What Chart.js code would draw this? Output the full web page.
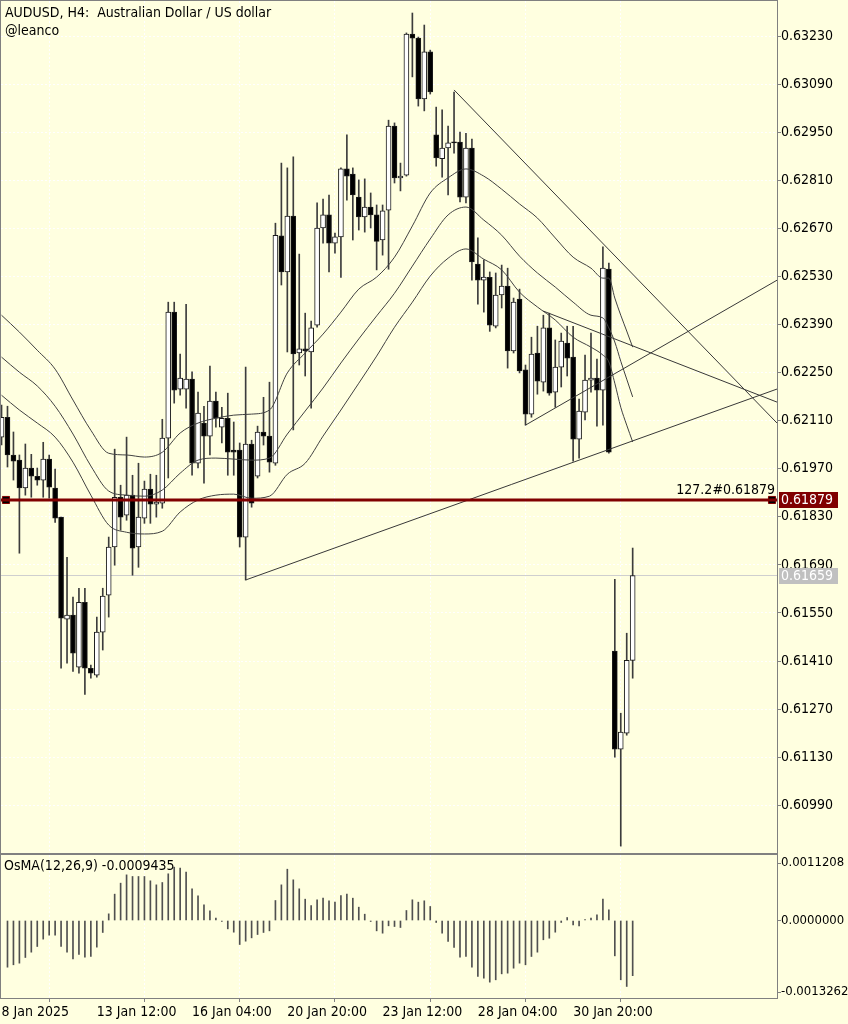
<!DOCTYPE html>
<html>
<head>
<meta charset="utf-8">
<title>AUDUSD H4</title>
<script src="https://cdn.jsdelivr.net/npm/chart.js"></script>
<style>
  body { margin: 0; background: #ffffe0; }
  #wrap { position: relative; width: 848px; height: 1024px; overflow: hidden; background: #ffffe0;
          font-family: 'DejaVu Sans Condensed', 'DejaVu Sans', sans-serif; font-size: 14px; color: #000; }
  canvas { position: absolute; left: 0; }
  #priceChart { top: 0; }
  #osmaChart { top: 854px; }
  .lbl { position: absolute; white-space: pre; line-height: 16px; }
</style>
</head>
<body>
<div id="wrap">
  <canvas id="priceChart" width="848" height="854"></canvas>
  <canvas id="osmaChart" width="848" height="170"></canvas>
  <div class="lbl" style="left:5px; top:4px">AUDUSD, H4:  Australian Dollar / US dollar</div>
  <div class="lbl" style="left:5px; top:22px">@leanco</div>
  <div class="lbl" style="left:4px; top:857px">OsMA(12,26,9) -0.0009435</div>
</div>
<script>
// H4 candles, first one is bar -1 (8 Jan 20:00), last one bar 105 (3 Feb 04:00)
const firstBar = -1;
const opens = [0.62062,0.62120,0.62010,0.61995,0.61914,0.61972,0.61948,0.61937,0.61998,0.61914,
  0.61829,0.61532,0.61544,0.61392,0.61581,0.61389,0.61369,0.61494,0.61602,0.61742,
  0.61887,0.61835,0.61893,0.61742,0.61826,0.61911,0.61867,0.61870,0.62059,0.62426,
  0.62202,0.62202,0.62231,0.61986,0.62103,0.62065,0.62167,0.62091,0.62117,0.62024,
  0.62024,0.61771,0.62042,0.61948,0.62077,0.62065,0.61986,0.62648,0.62543,0.62706,
  0.62307,0.62319,0.62310,0.62388,0.62671,0.62709,0.62627,0.62645,0.62843,0.62828,
  0.62761,0.62703,0.62732,0.62709,0.62636,0.62723,0.62968,0.62817,0.62825,0.63236,
  0.63224,0.63047,0.63184,0.62942,0.62873,0.62904,0.62921,0.62921,0.62761,0.62904,
  0.62566,0.62519,0.62527,0.62385,0.62476,0.62502,0.62313,0.62464,0.62258,0.62129,
  0.62307,0.62222,0.62380,0.62193,0.62266,0.62336,0.62295,0.62056,0.62135,0.62228,
  0.62234,0.62199,0.62551,0.61439,0.61153,0.61200,0.61412];
const highs = [0.62155,0.62152,0.62077,0.62010,0.62042,0.62012,0.61972,0.62047,0.62010,0.61969,
  0.61829,0.61712,0.61596,0.61622,0.61622,0.61398,0.61538,0.61622,0.61771,0.62027,
  0.61922,0.62062,0.61951,0.61986,0.61934,0.61954,0.61951,0.62114,0.62455,0.62455,
  0.62304,0.62449,0.62252,0.62193,0.62152,0.62269,0.62193,0.62149,0.62190,0.62106,
  0.62045,0.62266,0.62053,0.62094,0.62178,0.62222,0.62685,0.62860,0.62846,0.62878,
  0.62595,0.62423,0.62400,0.62744,0.62755,0.62767,0.62656,0.62846,0.62942,0.62846,
  0.62811,0.62814,0.62773,0.62738,0.62738,0.62985,0.62977,0.62860,0.63239,0.63297,
  0.63227,0.63262,0.63189,0.63023,0.63015,0.62968,0.63067,0.62950,0.62947,0.62930,
  0.62642,0.62578,0.62543,0.62540,0.62563,0.62554,0.62467,0.62493,0.62272,0.62353,
  0.62385,0.62417,0.62423,0.62345,0.62365,0.62385,0.62385,0.62173,0.62301,0.62365,
  0.62289,0.62616,0.62569,0.61648,0.61258,0.61491,0.61739];
const lows = [0.62039,0.61975,0.61937,0.61724,0.61893,0.61887,0.61922,0.61887,0.61884,0.61814,
  0.61389,0.61404,0.61380,0.61375,0.61313,0.61360,0.61363,0.61442,0.61538,0.61689,
  0.61791,0.61820,0.61660,0.61683,0.61811,0.61811,0.61829,0.61855,0.61943,0.62161,
  0.62184,0.62146,0.61951,0.61972,0.61928,0.62010,0.62091,0.62045,0.61951,0.61951,
  0.61742,0.61646,0.61858,0.61943,0.62039,0.61960,0.61980,0.62505,0.62310,0.62083,
  0.62272,0.62240,0.62146,0.62382,0.62627,0.62543,0.62598,0.62527,0.62752,0.62636,
  0.62665,0.62659,0.62671,0.62549,0.62592,0.62551,0.62802,0.62779,0.62822,0.63111,
  0.63026,0.63012,0.63061,0.62851,0.62819,0.62767,0.62889,0.62747,0.62744,0.62519,
  0.62449,0.62426,0.62370,0.62380,0.62438,0.62263,0.62307,0.62249,0.62097,0.62120,
  0.62187,0.62196,0.62184,0.62149,0.62208,0.62240,0.61992,0.62001,0.62112,0.62193,
  0.62094,0.62097,0.62015,0.61130,0.60871,0.61194,0.61360];
const closes = [0.62120,0.62010,0.61992,0.61914,0.61972,0.61948,0.61937,0.61998,0.61916,0.61826,
  0.61535,0.61544,0.61433,0.61581,0.61389,0.61375,0.61494,0.61599,0.61742,0.61887,
  0.61829,0.61893,0.61739,0.61829,0.61911,0.61867,0.61873,0.62059,0.62426,0.62199,
  0.62234,0.62231,0.61986,0.62132,0.62065,0.62167,0.62117,0.62117,0.62018,0.62018,
  0.61771,0.62042,0.61870,0.62077,0.62065,0.61989,0.62650,0.62543,0.62706,0.62304,
  0.62319,0.62313,0.62380,0.62671,0.62709,0.62627,0.62645,0.62843,0.62822,0.62767,
  0.62703,0.62732,0.62709,0.62632,0.62721,0.62968,0.62817,0.62822,0.63236,0.63224,
  0.63047,0.63184,0.63067,0.62875,0.62904,0.62919,0.62919,0.62761,0.62904,0.62572,
  0.62519,0.62528,0.62388,0.62476,0.62502,0.62313,0.62455,0.62255,0.62129,0.62304,
  0.62225,0.62380,0.62190,0.62266,0.62342,0.62292,0.62056,0.62138,0.62228,0.62234,
  0.62199,0.62554,0.62018,0.61153,0.61203,0.61412,0.61659];

// OsMA(12,26,9) histogram, same bars (no value for bar -1)
const osma = [null,-0.000799,-0.000758,-0.000730,-0.000633,-0.000542,-0.000445,-0.000319,-0.000251,-0.000251,
  -0.000445,-0.000542,-0.000656,-0.000582,-0.000627,-0.000616,-0.000456,-0.000205,0.000114,0.000451,
  0.000639,0.000781,0.000753,0.000753,0.000753,0.000679,0.000610,0.000650,0.000799,0.000913,
  0.000896,0.000827,0.000542,0.000422,0.000268,0.000165,0.000040,-0.000011,-0.000143,-0.000200,
  -0.000411,-0.000354,-0.000297,-0.000240,-0.000205,-0.000177,0.000342,0.000610,0.000878,0.000696,
  0.000542,0.000365,0.000254,0.000354,0.000382,0.000337,0.000314,0.000428,0.000451,0.000382,
  0.000228,0.000108,-0.000010,-0.000177,-0.000217,-0.000091,-0.000103,-0.000120,0.000171,0.000354,
  0.000314,0.000337,0.000240,-0.000034,-0.000217,-0.000359,-0.000462,-0.000627,-0.000616,-0.000799,
  -0.000958,-0.000987,-0.001055,-0.001015,-0.000913,-0.000901,-0.000816,-0.000730,-0.000758,-0.000616,
  -0.000542,-0.000330,-0.000303,-0.000200,-0.000034,0.000051,-0.000074,-0.000091,0.000005,0.000040,
  0.000097,0.000365,0.000183,-0.000605,-0.001015,-0.001129,-0.000944];

// moving average band (three lines), read every few bars
const maBars  = [-1,2,5,8,11,14,17,20,23,26,29,32,35,38,41,44,47,50,53,56,59,62,65,68,71,74,77,80,83,86,89,92,95,98,100,101,102,103,104,105];
const maUpper = [0.62417,0.62368,0.62315,0.62260,0.62170,0.62082,0.62015,0.62010,0.62004,0.62018,
  0.62074,0.62103,0.62117,0.62126,0.62129,0.62141,0.62249,0.62307,0.62362,0.62426,
  0.62493,0.62528,0.62586,0.62677,0.62773,0.62817,0.62843,0.62822,0.62784,0.62741,
  0.62700,0.62642,0.62586,0.62554,0.62525,0.62525,0.62467,0.62417,0.62371,0.62324];
const maMiddle = [0.62295,0.62251,0.62211,0.62152,0.62071,0.61978,0.61905,0.61893,0.61890,0.61908,
  0.61957,0.61995,0.62001,0.61998,0.61995,0.62001,0.62071,0.62138,0.62205,0.62278,
  0.62348,0.62415,0.62481,0.62560,0.62639,0.62709,0.62732,0.62694,0.62650,0.62589,
  0.62540,0.62499,0.62455,0.62417,0.62409,0.62380,0.62339,0.62283,0.62231,0.62179];
const maLower = [0.62184,0.62141,0.62103,0.62062,0.61989,0.61893,0.61806,0.61785,0.61780,0.61788,
  0.61844,0.61879,0.61893,0.61896,0.61884,0.61890,0.61954,0.61986,0.62065,0.62141,
  0.62219,0.62298,0.62382,0.62455,0.62531,0.62583,0.62610,0.62580,0.62549,0.62484,
  0.62441,0.62403,0.62353,0.62324,0.62301,0.62281,0.62219,0.62149,0.62097,0.62048];

// hand drawn trend lines: start bar/price -> end bar/price
const trendStartBar   = [75, 90, 87, 40];
const trendStartPrice = [0.63073, 0.62429, 0.62097, 0.61646];
const trendEndBar     = [129.24, 129.24, 129.24, 129.24];
const trendEndPrice   = [0.62103, 0.62164, 0.62519, 0.62202];

const fiboLevel = 0.61879;
const fiboText = '127.2#0.61879';
const fiboAnchorBars = [-0.25, 128.4];
const lastPrice = 0.61659;

const priceTicks = [0.63230,0.63090,0.62950,0.62810,0.62670,0.62530,0.62390,0.62250,0.62110,
  0.61970,0.61830,0.61690,0.61550,0.61410,0.61270,0.61130,0.60990];
const priceMin = 0.60851, priceMax = 0.63332;
const osmaMin = -0.0013262, osmaMax = 0.0011208;
const osmaTickLabels = ['0.0011208', '0.0000000', '-0.0013262'];
const timeTickBars = [-1, 15, 31, 47, 63, 79, 95];
const timeTickLabels = ['8 Jan 2025', '13 Jan 12:00', '16 Jan 04:00', '20 Jan 20:00', '23 Jan 12:00', '28 Jan 04:00', '30 Jan 20:00'];
const xMin = -1.09, xMax = 129.24;

const FONT_FAMILY = "'DejaVu Sans Condensed', 'DejaVu Sans', sans-serif";
const axisFont = { family: FONT_FAMILY, size: 14 };
Chart.defaults.font.family = FONT_FAMILY;

const barIdx = opens.map((_, i) => i + firstBar);
const wickData = barIdx.map((x, i) => ({ x: x, y: [lows[i], highs[i]] }));
const bodyData = barIdx.map((x, i) => ({ x: x, y: [opens[i], closes[i]] }));
const bodyColors = opens.map((o, i) => closes[i] >= o ? '#ffffff' : '#000000');

function maLine(values) {
  return {
    type: 'line', data: maBars.map((b, i) => ({ x: b, y: values[i] })),
    borderColor: '#404040', borderWidth: 1, pointRadius: 0,
    cubicInterpolationMode: 'monotone', order: 2
  };
}

const trendSets = trendStartBar.map((b, i) => ({
  type: 'line',
  data: [{ x: b, y: trendStartPrice[i] }, { x: trendEndBar[i], y: trendEndPrice[i] }],
  borderColor: '#383838', borderWidth: 1, pointRadius: 0, order: 1
}));

// no extra label padding: the panels must fill the canvas exactly
function noPad(s) {
  s.paddingTop = 0; s.paddingBottom = 0; s.paddingLeft = 0; s.paddingRight = 0;
}

// frame round the plot, price boxes on the right axis, fibo text
function drawFrame(chart) {
  const a = chart.chartArea, ctx = chart.ctx;
  ctx.save();
  ctx.strokeStyle = '#808080';
  ctx.lineWidth = 1;
  ctx.strokeRect(a.left - 0.5, a.top - 0.5, a.right - a.left + 1, a.bottom - a.top + 1);
  ctx.restore();
}

function priceBox(chart, value, bg) {
  const ctx = chart.ctx, a = chart.chartArea;
  const y = Math.round(chart.scales.y.getPixelForValue(value));
  ctx.fillStyle = bg;
  ctx.fillRect(a.right + 2, y - 8, 59, 16);
  ctx.fillStyle = '#ffffff';
  ctx.textAlign = 'left';
  ctx.textBaseline = 'middle';
  ctx.fillText(value.toFixed(5), a.right + 4, y + 0.5);
}

const pricePlugin = {
  id: 'priceExtras',
  afterDraw(chart) {
    const ctx = chart.ctx, a = chart.chartArea;
    drawFrame(chart);
    ctx.save();
    ctx.font = '14px ' + FONT_FAMILY;
    ctx.fillStyle = '#000';
    ctx.textAlign = 'right';
    ctx.textBaseline = 'bottom';
    ctx.fillText(fiboText, a.right - 2, chart.scales.y.getPixelForValue(fiboLevel) - 3);
    priceBox(chart, fiboLevel, '#800000');
    priceBox(chart, lastPrice, '#c0c0c0');
    ctx.restore();
  }
};

const framePlugin = { id: 'frame', afterDraw: drawFrame };

new Chart(document.getElementById('priceChart'), {
  type: 'bar',
  data: {
    datasets: [
      { type: 'line', data: [{ x: xMin, y: fiboLevel }, { x: xMax, y: fiboLevel }],
        borderColor: '#800000', borderWidth: 3, pointRadius: 0, order: 0 },
      { type: 'line', data: fiboAnchorBars.map(b => ({ x: b, y: fiboLevel })), showLine: false,
        pointStyle: 'rect', pointRadius: 5, pointBackgroundColor: '#000', pointBorderColor: '#800000',
        pointBorderWidth: 1, order: 0 },
      ...trendSets,
      maLine(maUpper), maLine(maMiddle), maLine(maLower),
      { data: bodyData, backgroundColor: bodyColors, borderColor: '#1a1a1a', borderWidth: 1,
        borderSkipped: false, barThickness: 5, minBarLength: 1, grouped: false, order: 3 },
      { data: wickData, backgroundColor: '#3c3c3c', barThickness: 1, grouped: false, order: 4 },
      { type: 'line', data: [{ x: xMin, y: lastPrice }, { x: xMax, y: lastPrice }],
        borderColor: '#cfcfcf', borderWidth: 1, pointRadius: 0, order: 5 }
    ]
  },
  options: {
    responsive: false, animation: false,
    layout: { autoPadding: false, padding: { top: 1, left: 1, right: 0, bottom: 1 } },
    plugins: { legend: { display: false }, tooltip: { enabled: false } },
    scales: {
      x: {
        type: 'linear', min: xMin, max: xMax, offset: false,
        afterBuildTicks: s => { s.ticks = timeTickBars.map(v => ({ value: v })); },
        afterFit: s => { s.height = 0; noPad(s); },
        ticks: { display: false },
        grid: { color: '#ffffff', drawTicks: false },
        border: { display: false, dash: [2, 2] }
      },
      y: {
        position: 'right', min: priceMin, max: priceMax,
        afterBuildTicks: s => { s.ticks = priceTicks.map(v => ({ value: v })); },
        afterFit: s => { s.width = 71; noPad(s); },
        ticks: { callback: v => v.toFixed(5), font: axisFont, color: '#000', padding: 0 },
        grid: { color: '#ffffff', tickColor: '#808080', tickLength: 4 },
        border: { display: false, dash: [2, 2] }
      }
    }
  },
  plugins: [pricePlugin]
});

new Chart(document.getElementById('osmaChart'), {
  type: 'bar',
  data: {
    datasets: [
      { data: barIdx.map((x, i) => ({ x: x, y: osma[i] })), backgroundColor: '#505050',
        barThickness: 1, minBarLength: 1 }
    ]
  },
  options: {
    responsive: false, animation: false,
    layout: { autoPadding: false, padding: { top: 1, left: 1, right: 0, bottom: 0 } },
    plugins: { legend: { display: false }, tooltip: { enabled: false } },
    scales: {
      x: {
        type: 'linear', min: xMin, max: xMax, offset: false,
        afterBuildTicks: s => { s.ticks = timeTickBars.map(v => ({ value: v })); },
        afterFit: s => { s.height = 26; noPad(s); },
        ticks: { align: 'start', maxRotation: 0, autoSkip: false, font: axisFont, color: '#000', padding: 2,
                 callback: (v, i) => timeTickLabels[i] },
        grid: { color: '#ffffff', tickColor: '#808080', tickLength: 4 },
        border: { display: false, dash: [2, 2] }
      },
      y: {
        position: 'right', min: osmaMin, max: osmaMax,
        // MT4 writes the max/min labels just inside the panel edges
        afterBuildTicks: s => {
          const perPx = (osmaMax - osmaMin) / 143;
          s.ticks = [osmaMax - 8 * perPx, 0, osmaMin + 6 * perPx].map(v => ({ value: v }));
        },
        afterFit: s => { s.width = 71; noPad(s); },
        ticks: { callback: (v, i) => osmaTickLabels[i], font: { family: FONT_FAMILY, size: 13 }, color: '#000', padding: 0 },
        grid: { drawOnChartArea: false, tickColor: '#808080', tickLength: 4 },
        border: { display: false }
      }
    }
  },
  plugins: [framePlugin]
});
</script>
</body>
</html>
